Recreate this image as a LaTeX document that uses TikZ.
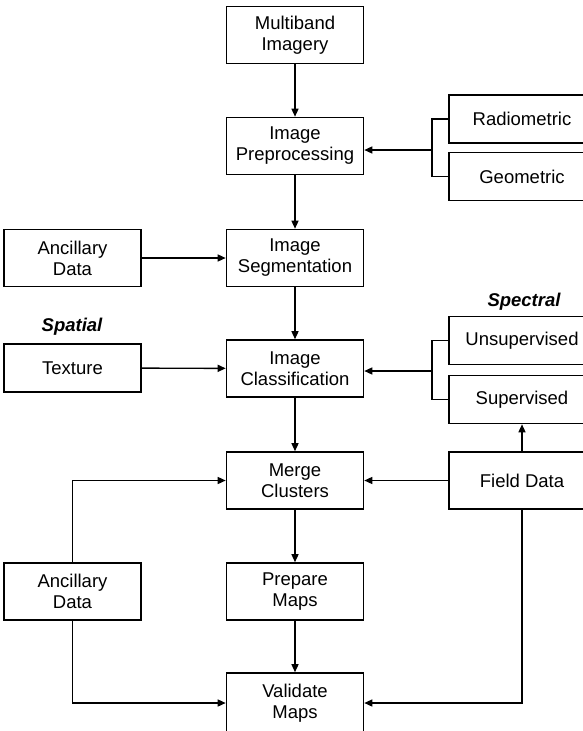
\documentclass[tikz,border=0pt]{standalone}
\usepackage{fontspec}
\setmainfont{Liberation Sans}
\usetikzlibrary{arrows.meta}

\begin{document}
\begin{tikzpicture}[x=1pt, y=-1pt, line width=1.4pt, >={Triangle[length=8pt,width=7pt]},
    box/.style={draw, line width=1.6pt, minimum width=137pt, minimum height=57pt, inner sep=0pt,
                align=center, font=\fontsize{18.5}{21}\selectfont},
    side/.style={box, minimum width=146pt, minimum height=48pt},
    tag/.style={font=\fontsize{18.5}{21}\selectfont\bfseries\itshape}]
    \useasboundingbox (0,0) rectangle (582,731);

    \node[box]  (mb)   at (295,35)    {Multiband\\Imagery};
    \node[box]  (pre)  at (295,146)   {Image\\Preprocessing};
    \node[side] (rad)  at (522,119)   {Radiometric};
    \node[side] (geo)  at (522,176.5) {Geometric};
    \node[box]  (anc1) at (72.5,258)  {Ancillary\\Data};
    \node[box]  (seg)  at (295,258)   {Image\\Segmentation};
    \node[tag]  (spa)  at (72,327)    {Spatial};
    \node[box, minimum height=48pt] (tex) at (72.5,368) {Texture};
    \node[box]  (cls)  at (295,368.5) {Image\\Classification};
    \node[tag]  (spe)  at (524,302)   {Spectral};
    \node[side] (uns)  at (522,340.5) {Unsupervised};
    \node[side] (sup)  at (522,399.5) {Supervised};
    \node[box]  (mrg)  at (295,480.5) {Merge\\Clusters};
    \node[side, minimum height=57pt] (fld) at (522,480.5) {Field Data};
    \node[box]  (anc2) at (72.5,591.5){Ancillary\\Data};
    \node[box]  (prep) at (295,591.5) {Prepare\\Maps};
    \node[box, minimum height=60pt] (val) at (295,703) {Validate\\Maps};

    \coordinate (b1) at (432,150);
    \coordinate (b2) at (432,371);

    \draw[->] (mb) -- (pre);
    \draw[->] (pre) -- (seg);
    \draw[->] (seg) -- (cls);
    \draw[->] (cls) -- (mrg);
    \draw[->] (mrg) -- (prep);
    \draw[->] (prep) -- (val);
    \draw[->] (anc1) -- (seg);
    \draw[->] (tex) -- (cls);
    \draw (rad.west) -| (b1) |- (geo.west);
    \draw[->] (b1) -- (pre.east |- b1);
    \draw (uns.west) -| (b2) |- (sup.west);
    \draw[->] (b2) -- (cls.east |- b2);
    \draw[->] (fld) -- (sup);
    \draw[->] (fld) -- (mrg);
    \draw[->] (fld.south) |- (val.east);
    \draw[->] (anc2.north) |- (mrg.west);
    \draw[->] (anc2.south) |- (val.west);
\end{tikzpicture}
\end{document}
